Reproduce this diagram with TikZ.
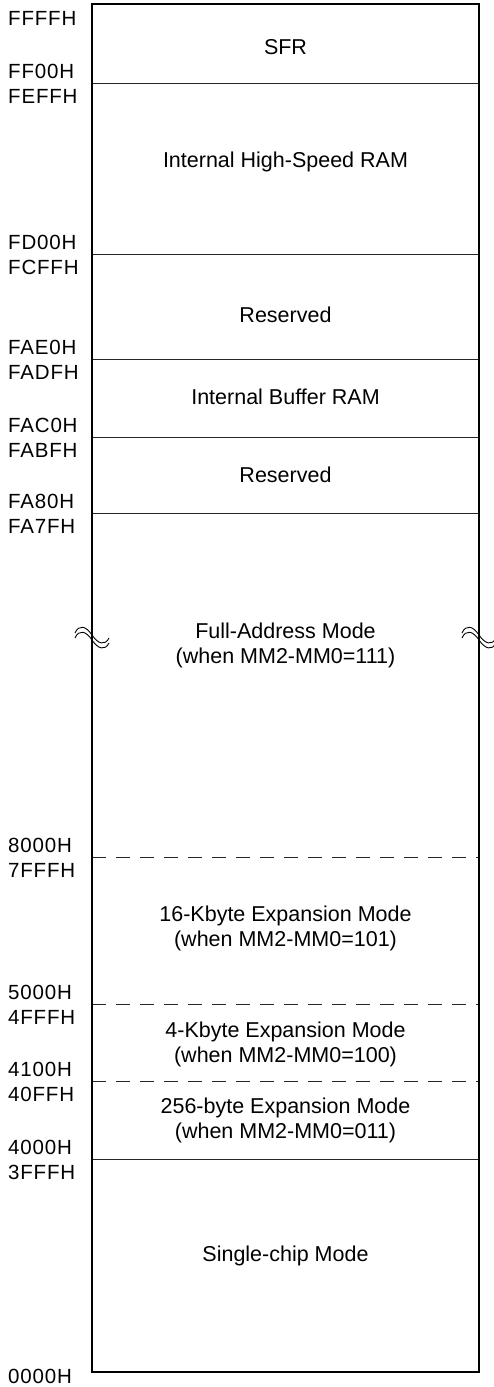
\documentclass[tikz,border=0pt]{standalone}
\usepackage{fontspec}
\setmainfont{Liberation Sans}
\usetikzlibrary{positioning}

\newcommand{\addrfont}{\fontsize{20.5}{20.5}\selectfont\addfontfeature{LetterSpace=4}}
\newcommand{\regionfont}{\fontsize{21.5}{25}\selectfont}

\begin{document}
\begin{tikzpicture}[x=1pt, y=-1pt,
  addr/.style={anchor=west, inner sep=0pt, font=\addrfont},
  region/.style={align=center, inner sep=0pt, font=\regionfont},
  sep/.style={line width=1pt, draw=black!85},
  dsep/.style={sep, dash pattern=on 14pt off 10pt},
  brk/.style={line width=0.9pt}
]
\useasboundingbox (0,0) rectangle (493,1387);

% memory map frame
\coordinate (tl) at (92,4);
\coordinate (br) at (479,1372);

% boundaries
\foreach \y in {83,254,359,437,513,1159}
  \draw[sep] (92,\y) -- (479,\y);
\foreach \y in {857,1004,1081}
  \draw[dsep] (92,\y) -- (479,\y);

\draw[line width=2pt] (tl) rectangle (br);

% break marks
\foreach \bx in {92,479}
  \foreach \dy in {0,5}
    \draw[brk] (\bx-17,633+\dy) .. controls (\bx-13,624+\dy) and (\bx-6,626+\dy) .. (\bx,635+\dy)
      .. controls (\bx+6,644+\dy) and (\bx+13,646+\dy) .. (\bx+17,638+\dy);

% regions
\node[region] (sfr) at (285.5,47.5) {SFR};
\node[region] (hsram) at (285.5,162) {Internal High-Speed RAM};
\node[region] (rsv1) at (285.5,315) {Reserved};
\node[region] (bufram) at (285.5,397) {Internal Buffer RAM};
\node[region] (rsv2) at (285.5,475) {Reserved};
\node[region] (full) at (285.5,645) {Full-Address Mode\\(when MM2-MM0=111)};
\node[region] (exp16k) at (285.5,928) {16-Kbyte Expansion Mode\\(when MM2-MM0=101)};
\node[region] (exp4k) at (285.5,1044) {4-Kbyte Expansion Mode\\(when MM2-MM0=100)};
\node[region] (exp256) at (285.5,1120) {256-byte Expansion Mode\\(when MM2-MM0=011)};
\node[region] (single) at (285.5,1256) {Single-chip Mode};

% addresses
\node[addr] (aFFFF) at (8,18) {FFFFH};
\foreach \y/\hi/\lo in {83/FF00H/FEFFH, 254/FD00H/FCFFH, 359/FAE0H/FADFH,
    437/FAC0H/FABFH, 513/FA80H/FA7FH, 857/8000H/7FFFH, 1004/5000H/4FFFH,
    1081/4100H/40FFH, 1159/4000H/3FFFH} {
  \node[addr] (a\hi) at (8,\y-11.5) {\hi};
  \node[addr] (a\lo) at (8,\y+13.5) {\lo};
}
\node[addr] (a0000) at (8,1376) {0000H};
\end{tikzpicture}
\end{document}
